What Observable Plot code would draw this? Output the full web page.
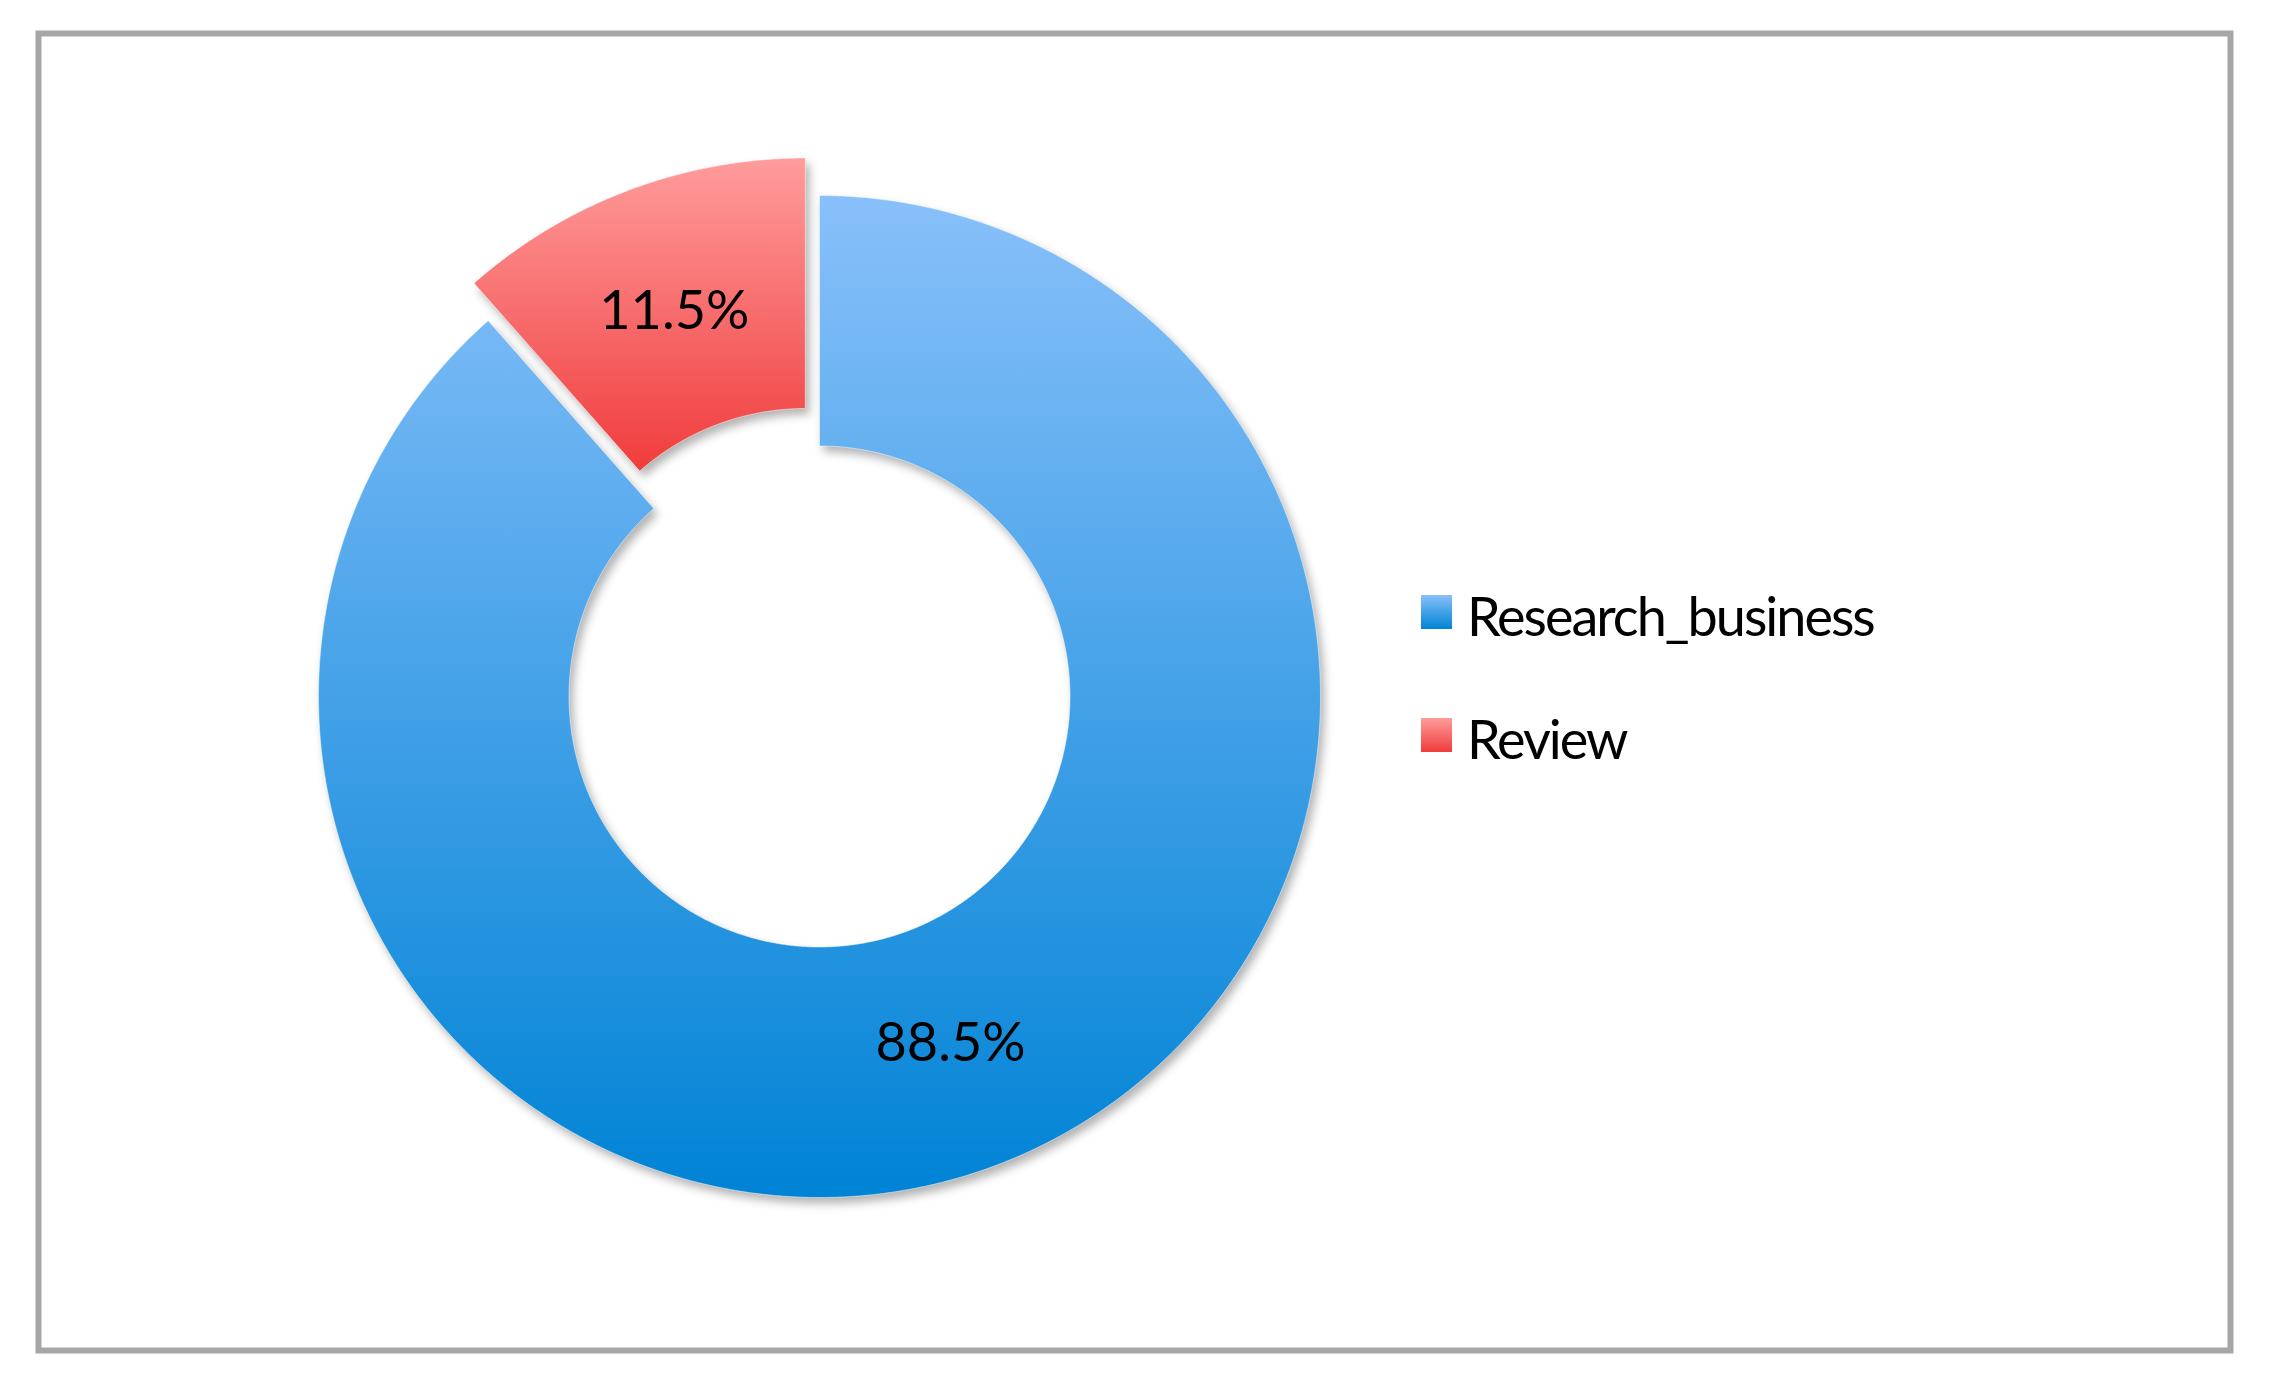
<!DOCTYPE html>
<html>
<head>
<meta charset="utf-8">
<script src="https://cdn.jsdelivr.net/npm/d3@7"></script>
<script src="https://cdn.jsdelivr.net/npm/@observablehq/plot@0.6"></script>
<style>
  html, body { margin: 0; padding: 0; background: #ffffff; }
  #chart { position: relative; width: 2275px; height: 1397px; }
</style>
</head>
<body>
<div id="chart"></div>
<script>
// ---- data ----
const categories = ["Research_business", "Review"];
const shares = [88.5, 11.5];
const labels = ["88.5%", "11.5%"];
const exploded = [false, true];

// ---- styles / layout ----
const W = 2275, H = 1397;
const innerRatio = 0.5;
const explodeDist = 0.08;
const fontFamily = "Lato, 'Open Sans', sans-serif";
const gradients = {
  Research_business: ["#88c0fa", "#0083d5"],
  Review: ["#ff9c9c", "#f03c3c"]
};
const gradId = c => "grad_" + c;

// angles from data (clockwise from top)
const pie = d3.pie().sort(null).value((d, i) => shares[i]).startAngle(0).endAngle(2 * Math.PI);
const arcs = pie(categories);

const ringPoints = [];
const labelPoints = [];
arcs.forEach((a, i) => {
  const c = categories[i];
  const mid = (a.startAngle + a.endAngle) / 2;
  const ox = exploded[i] ? explodeDist * Math.sin(mid) : 0;
  const oy = exploded[i] ? explodeDist * Math.cos(mid) : 0;
  const n = Math.max(8, Math.ceil((a.endAngle - a.startAngle) / (Math.PI / 720)));
  const pts = [];
  for (let k = 0; k <= n; k++) {
    const t = a.startAngle + (a.endAngle - a.startAngle) * k / n;
    pts.push({key: c, x: ox + Math.sin(t), y: oy + Math.cos(t)});
  }
  for (let k = n; k >= 0; k--) {
    const t = a.startAngle + (a.endAngle - a.startAngle) * k / n;
    pts.push({key: c, x: ox + innerRatio * Math.sin(t), y: oy + innerRatio * Math.cos(t)});
  }
  pts.push(pts[0]);
  ringPoints.push(...pts);
  const rm = 0.74;
  labelPoints.push({key: c, label: labels[i], x: ox + rm * Math.sin(mid), y: oy + rm * Math.cos(mid)});
});

const svg = Plot.plot({
  width: W,
  height: H,
  marginLeft: 38, marginTop: 33, marginRight: W - 2230, marginBottom: H - 1350,
  x: {domain: [-1, 1], range: [318, 1320], axis: null},
  y: {domain: [-1, 1], range: [1197, 195], axis: null},
  color: {type: "ordinal", domain: categories, range: categories.map(c => gradients[c][1])},
  style: {background: "white", overflow: "visible"},
  marks: [
    Plot.frame({stroke: "#a6a6a6", strokeWidth: 6}),
    // soft shadow copy (blurred below)
    Plot.line(ringPoints, {
      x: "x", y: "y", z: "key", fill: "#000", fillOpacity: 0.3, stroke: "none",
      dx: 4, dy: 6, curve: "linear"
    }),
    // slices
    Plot.line(ringPoints, {
      x: "x", y: "y", z: "key", fill: "key", stroke: "white", strokeWidth: 0.5,
      curve: "linear"
    }),
    Plot.text(labelPoints, {x: "x", y: "y", text: "label", fontSize: 54, fontFamily, fill: "#000"})
  ]
});

// defs: gradients and blur
const s = d3.select(svg);
const defs = s.insert("defs", ":first-child");
categories.forEach(c => {
  const g = defs.append("linearGradient").attr("id", gradId(c))
    .attr("x1", 0).attr("y1", 0).attr("x2", 0).attr("y2", 1);
  g.append("stop").attr("offset", "0%").attr("stop-color", gradients[c][0]);
  g.append("stop").attr("offset", "100%").attr("stop-color", gradients[c][1]);
});
defs.append("filter").attr("id", "blur")
  .attr("x", "-10%").attr("y", "-10%").attr("width", "120%").attr("height", "120%")
  .append("feGaussianBlur").attr("stdDeviation", 5);

const lineGroups = svg.querySelectorAll("g[aria-label=line]");
if (lineGroups.length >= 2) {
  lineGroups[0].setAttribute("filter", "url(#blur)");
  lineGroups[1].querySelectorAll("path").forEach((p, i) => {
    const fill = d3.color(p.getAttribute("fill"));
    const c = categories.find(k => fill && d3.color(gradients[k][1]).formatHex() === fill.formatHex()) || categories[i];
    p.setAttribute("fill", `url(#${gradId(c)})`);
  });
}

// legend (right side, inside frame)
const legend = s.append("g").attr("font-family", fontFamily).attr("font-size", 54)
  .attr("text-anchor", "start").attr("letter-spacing", "-2px");
const legendX = 1421, legendTop = 595, legendStep = 123;
categories.forEach((c, i) => {
  const y0 = legendTop + i * legendStep;
  legend.append("rect").attr("x", legendX).attr("y", y0).attr("width", 31).attr("height", 34)
    .attr("fill", `url(#${gradId(c)})`);
  legend.append("text").attr("x", legendX + 46).attr("y", y0 + 41).attr("fill", "#000").text(c);
});

document.getElementById("chart").appendChild(svg);
</script>
</body>
</html>
